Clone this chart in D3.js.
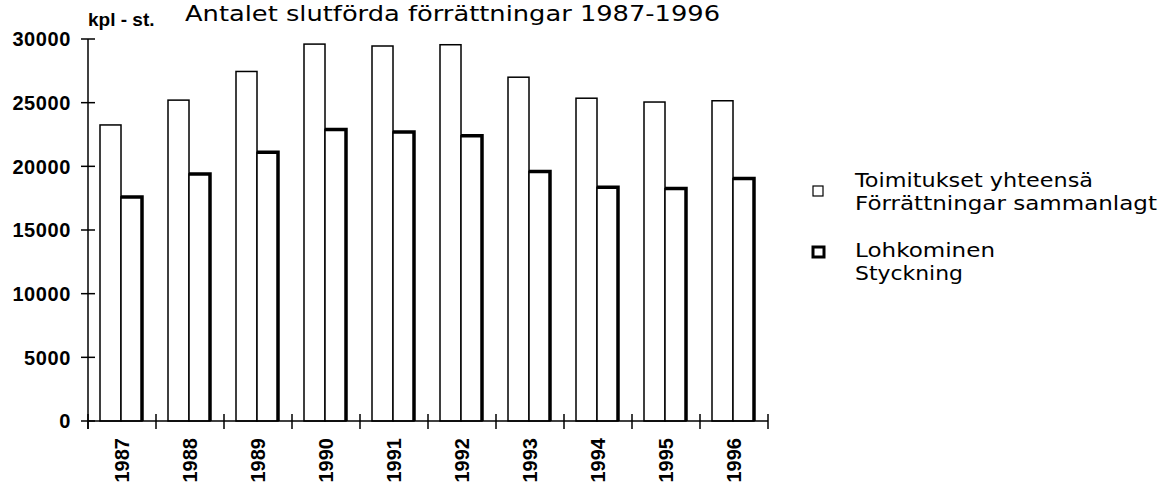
<!DOCTYPE html>
<html lang="sv">
<head>
    <meta charset="UTF-8">
    <title>Antalet slutförda förrättningar 1987-1996</title>
    <script src="https://d3js.org/d3.v7.min.js"></script>
    <style>
        body { margin: 0; background: #fff; }
        .axis line, .axis path { stroke: #000; stroke-width: 1.5px; }
        .tick-label { font: bold 20px "Liberation Sans", Arial, sans-serif; fill: #000; }
        .ylab { letter-spacing: 0.6px; }
        .title { font: 21px "DejaVu Sans", sans-serif; fill: #000; }
        .legend text { font: 19px "DejaVu Sans", sans-serif; fill: #000; }
    </style>
</head>
<body>
<script>
    // values
    const years = ["1987", "1988", "1989", "1990", "1991", "1992", "1993", "1994", "1995", "1996"];
    const totalValues = [23250, 25200, 27450, 29600, 29450, 29550, 27000, 25350, 25050, 25150];
    const styckningValues = [17600, 19400, 21100, 22900, 22700, 22400, 19600, 18350, 18250, 19050];
    const yTicks = [0, 5000, 10000, 15000, 20000, 25000, 30000];
    const seriesNames = ["total", "styckning"];
    const legendLabels = [
        ["Toimitukset yhteensä", "Förrättningar sammanlagt"],
        ["Lohkominen", "Styckning"]
    ];
    // widths of the legend lines in the original lettering
    const legendWidths = [[238, 302], [140, 108]];

    const W = 1162, H = 485;
    const svg = d3.select("body").append("svg")
        .attr("width", W)
        .attr("height", H);

    const x = d3.scaleBand().domain(years).range([88, 768]);
    const xInner = d3.scaleBand().domain(seriesNames).range([12, 54]);
    const y = d3.scaleLinear().domain([0, 30000]).range([421, 39]);

    // bars
    const groups = svg.selectAll(".year")
        .data(years)
        .enter().append("g")
        .attr("class", "year")
        .attr("transform", d => `translate(${x(d)},0)`);

    groups.append("rect")
        .attr("x", xInner("total"))
        .attr("y", (d, i) => y(totalValues[i]))
        .attr("width", xInner.bandwidth())
        .attr("height", (d, i) => y(0) - y(totalValues[i]))
        .attr("fill", "#fff")
        .attr("stroke", "#000")
        .attr("stroke-width", 1.5);

    groups.append("rect")
        .attr("x", xInner("styckning"))
        .attr("y", (d, i) => y(styckningValues[i]))
        .attr("width", xInner.bandwidth())
        .attr("height", (d, i) => y(0) - y(styckningValues[i]))
        .attr("fill", "#fff")
        .attr("stroke", "#000")
        .attr("stroke-width", 1.5);

    // heavy top and right edge of the styckning bars
    groups.append("path")
        .attr("fill", "none")
        .attr("stroke", "#000")
        .attr("stroke-width", 3.5)
        .attr("d", (d, i) => {
            const x0 = xInner("styckning"), x1 = x0 + xInner.bandwidth();
            const top = y(styckningValues[i]);
            return `M${x0},${top}H${x1}V${y(0)}`;
        });

    // y axis
    const yAxis = svg.append("g").attr("class", "axis");
    yAxis.append("line")
        .attr("x1", 88).attr("x2", 88)
        .attr("y1", y(30000)).attr("y2", y(0) + 8);
    yAxis.selectAll(".yt")
        .data(yTicks)
        .enter().append("line")
        .attr("x1", 81).attr("x2", 95)
        .attr("y1", d => y(d)).attr("y2", d => y(d));
    yAxis.selectAll(".ylab")
        .data(yTicks)
        .enter().append("text")
        .attr("class", "tick-label ylab")
        .attr("x", 71)
        .attr("y", d => y(d))
        .attr("dy", "0.36em")
        .attr("text-anchor", "end")
        .text(d => d);

    // x axis
    const xAxis = svg.append("g").attr("class", "axis");
    const bounds = years.map(d => x(d)).concat([x.range()[1]]);
    xAxis.append("line")
        .attr("x1", 88).attr("x2", 768)
        .attr("y1", y(0)).attr("y2", y(0));
    xAxis.selectAll(".xt")
        .data(bounds)
        .enter().append("line")
        .attr("x1", d => d).attr("x2", d => d)
        .attr("y1", y(0) - 7).attr("y2", y(0) + 8);
    xAxis.selectAll(".xlab")
        .data(years)
        .enter().append("text")
        .attr("class", "tick-label")
        .attr("transform", d => `translate(${x(d) + x.bandwidth() / 2},438) rotate(-90)`)
        .attr("dy", "0.36em")
        .attr("text-anchor", "end")
        .text(d => d);

    // titles
    svg.append("text")
        .attr("x", 88).attr("y", 26)
        .style("font", "bold 19px 'Liberation Sans', Arial, sans-serif")
        .text("kpl - st.");

    svg.append("text")
        .attr("class", "title")
        .attr("x", 185).attr("y", 21)
        .attr("textLength", 535)
        .attr("lengthAdjust", "spacingAndGlyphs")
        .text("Antalet slutförda förrättningar  1987-1996");

    // legend
    const legend = svg.append("g").attr("class", "legend");
    const legendY = [187, 257];
    const legendBox = [[813, 186, 10, 10, 1.2], [813, 247, 11, 10, 3]];
    legendLabels.forEach((lines, i) => {
        const b = legendBox[i];
        legend.append("rect")
            .attr("x", b[0]).attr("y", b[1])
            .attr("width", b[2]).attr("height", b[3])
            .attr("fill", "#fff")
            .attr("stroke", "#000")
            .attr("stroke-width", b[4]);
        lines.forEach((t, j) => {
            legend.append("text")
                .attr("x", 855)
                .attr("y", legendY[i] + j * 23)
                .attr("textLength", legendWidths[i][j])
                .attr("lengthAdjust", "spacingAndGlyphs")
                .text(t);
        });
    });
</script>
</body>
</html>
